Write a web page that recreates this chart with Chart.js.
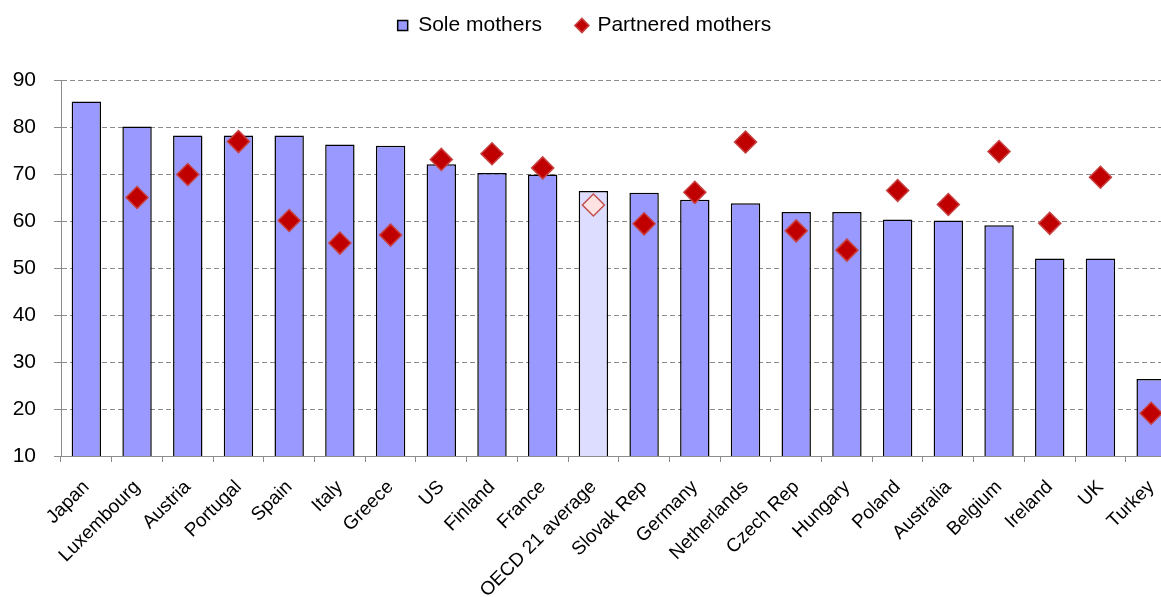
<!DOCTYPE html>
<html>
<head>
<meta charset="utf-8">
<script src="https://cdn.jsdelivr.net/npm/chart.js@4"></script>
<style>
  html, body { margin: 0; padding: 0; background: #fff; overflow: hidden; }
  #wrap { position: relative; width: 1161px; height: 597px; overflow: hidden; }
  #chart { display: block; }
</style>
</head>
<body>
<div id="wrap"><canvas id="chart" width="1189" height="597"></canvas></div>
<script>
// ========== Data ==========
const countries = [
  "Japan", "Luxembourg", "Austria", "Portugal", "Spain", "Italy", "Greece", "US",
  "Finland", "France", "OECD 21 average", "Slovak Rep", "Germany", "Netherlands",
  "Czech Rep", "Hungary", "Poland", "Australia", "Belgium", "Ireland", "UK", "Turkey"
];
const soleMothers = [85.4, 80.1, 78.2, 78.2, 78.2, 76.3, 76.0, 72.1, 70.2, 69.9, 66.4,
  66.0, 64.5, 63.8, 61.9, 61.9, 60.3, 60.1, 59.1, 52.0, 52.0, 26.4];
const partneredMothers = [null, 65.0, 69.9, 76.9, 60.1, 55.3, 57.0, 73.1, 74.3, 71.3, 63.4,
  59.4, 66.1, 76.8, 57.9, 53.8, 66.5, 63.5, 74.8, 59.5, 69.3, 19.1];
const yTicks = { min: 10, max: 90, step: 10 };

const avgIndex = countries.indexOf("OECD 21 average");

// ========== Style helpers ==========
const GREY = "#8c8c8c";
const isAvg = ctx => ctx.dataIndex === avgIndex;

Chart.defaults.font.family = '"Liberation Sans", Arial, sans-serif';
Chart.defaults.color = "#000";

// legend needs more room than it asks for, and sits a bit left of the canvas centre
const legendSpace = {
  id: "legendSpace",
  beforeInit(chart) {
    const fit = chart.legend.fit;
    chart.legend.fit = function () { fit.call(this); this.height = 100; };
  },
  afterLayout(chart) {
    chart.legend.right -= 20;
  }
};

new Chart(document.getElementById("chart"), {
  type: "bar",
  data: {
    labels: countries,
    datasets: [
      {
        label: "Sole mothers",
        data: soleMothers,
        backgroundColor: ctx => isAvg(ctx) ? "#DDDDFF" : "#9999FF",
        borderColor: "#000",
        borderWidth: 1.5,
        barPercentage: 0.58,
        categoryPercentage: 1,
        pointStyle: "rect",
        order: 1
      },
      {
        type: "line",
        label: "Partnered mothers",
        data: partneredMothers,
        showLine: false,
        pointStyle: "rectRot",
        pointRadius: 11,
        pointBorderWidth: 1.5,
        backgroundColor: "#C00000",
        borderColor: "#C84040",
        pointBackgroundColor: ctx => isAvg(ctx) ? "#FFE3E3" : "#C00000",
        pointBorderColor: ctx => isAvg(ctx) ? "#C0504D" : "#C84040",
        order: 0
      }
    ]
  },
  options: {
    responsive: false,
    animation: false,
    layout: { padding: { top: -20, left: 0, right: 0, bottom: 0 } },
    plugins: {
      legend: {
        position: "top",
        labels: {
          usePointStyle: true,
          boxWidth: 10,
          boxHeight: 10,
          padding: 35,
          font: { size: 21 },
          sort: (a, b) => a.datasetIndex - b.datasetIndex
        }
      },
      tooltip: { enabled: false }
    },
    scales: {
      x: {
        grid: {
          drawOnChartArea: false,
          drawTicks: true,
          tickLength: 6,
          color: GREY,
          offset: true
        },
        border: { color: GREY, width: 1 },
        ticks: {
          maxRotation: 45,
          minRotation: 45,
          autoSkip: false,
          padding: 14,
          font: { size: 19 }
        },
        afterFit: s => { s.height = 141; }
      },
      y: {
        min: yTicks.min,
        max: yTicks.max,
        grid: {
          color: GREY,
          lineWidth: 1,
          tickLength: 7,
          tickBorderDash: []
        },
        border: { color: GREY, width: 1, dash: [5, 3] },
        ticks: {
          stepSize: yTicks.step,
          padding: 18,
          font: { size: 21 }
        },
        afterFit: s => { s.width = 61; }
      }
    }
  },
  plugins: [legendSpace]
});
</script>
</body>
</html>
